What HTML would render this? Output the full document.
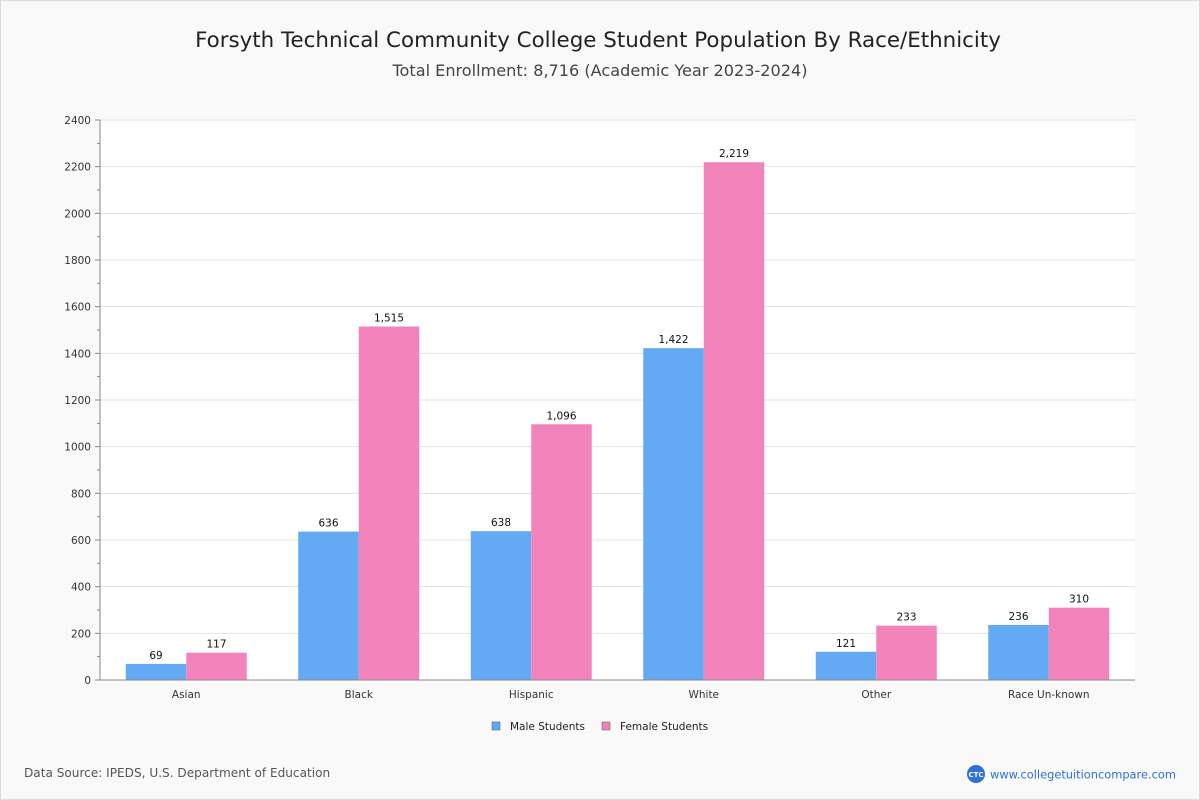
<!DOCTYPE html>
<html><head><meta charset="utf-8">
<style>
body{margin:0;width:1200px;height:800px;background:#f9f9f9;font-family:"DejaVu Sans","Liberation Sans",sans-serif;overflow:hidden}
#frame{position:absolute;left:0;top:0;width:1198px;height:798px;border:1px solid #ddd}
</style></head><body>
<div id="frame"></div>
<svg id="chart" width="1200" height="800" style="position:absolute;left:0;top:0">
<text x="598" y="47" text-anchor="middle" font-size="21.4" fill="#222">Forsyth Technical Community College Student Population By Race/Ethnicity</text>
<text x="600" y="76" text-anchor="middle" font-size="16.1" fill="#444">Total Enrollment: 8,716 (Academic Year 2023-2024)</text>
<rect x="100" y="120" width="1035" height="560" fill="#fff"/>
<g id="grid"></g><g id="bars"></g><g id="axes"></g>
<g>
<rect x="492" y="722" width="8" height="8" fill="#63a9f4" stroke="#555" stroke-width="0.5"/>
<text x="510" y="730" font-size="10.5" fill="#222">Male Students</text>
<rect x="602" y="722" width="8" height="8" fill="#f283bb" stroke="#555" stroke-width="0.5"/>
<text x="620" y="730" font-size="10.5" fill="#222">Female Students</text>
</g>
<text x="24" y="777" font-size="12.1" fill="#555">Data Source: IPEDS, U.S. Department of Education</text>
<circle cx="976" cy="774" r="9" fill="#2f6fd6"/>
<text x="976" y="777" text-anchor="middle" font-size="7" fill="#fff" font-weight="bold">CTC</text>
<text x="990" y="778.5" font-size="11.4" fill="#2f6fd6">www.collegetuitioncompare.com</text>
</svg>
<script>
const categories=["Asian","Black","Hispanic","White","Other","Race Un-known"];
const maleValues=[69,636,638,1422,121,236];
const femaleValues=[117,1515,1096,2219,233,310];
const yTicks=[0,200,400,600,800,1000,1200,1400,1600,1800,2000,2200,2400];
const X0=100,X1=1135,Y0=680,Y1=120,YMAX=2400;
const y=v=>Y0-(v/YMAX)*(Y0-Y1);
const band=(X1-X0)/categories.length;
const xc=i=>X0+band*(i+0.5);
const NS="http://www.w3.org/2000/svg";
function mk(tag,attrs,parent,txt){const e=document.createElementNS(NS,tag);for(const k in attrs)e.setAttribute(k,attrs[k]);if(txt!==undefined)e.textContent=txt;parent.appendChild(e);return e;}
const grid=document.getElementById('grid'),bars=document.getElementById('bars'),axes=document.getElementById('axes');
yTicks.forEach(t=>{
 const g=mk('line',{x1:X0,x2:X1,y1:y(t),y2:y(t),stroke:'#e3e3e3','stroke-width':1},grid);
 
 
 const l=mk('text',{x:91,y:y(t)+4,'text-anchor':'end','font-size':10.5,fill:'#333'},axes,String(t));
 
 
 mk('line',{x1:95,x2:100,y1:y(t),y2:y(t),stroke:'#888'},axes);
 if(t<YMAX){mk('line',{x1:97,x2:100,y1:y(t+100),y2:y(t+100),stroke:'#888'},axes);}
});
mk('line',{x1:X0,x2:X0,y1:Y1,y2:Y0,stroke:'#888'},axes);
mk('line',{x1:X0,x2:X1,y1:Y0,y2:Y0,stroke:'#888'},axes);
const fmt=v=>v.toLocaleString('en-US');
const bw=60.5;
categories.forEach((c,i)=>{
 const cx=xc(i);
 [[maleValues[i],cx-bw,'#63a9f4','bar-male'],[femaleValues[i],cx,'#f283bb','bar-female']].forEach(([v,x,col,nm])=>{
  const r=mk('rect',{x:x,y:y(v),width:bw,height:Y0-y(v),fill:col},bars);
  
  
  const t=mk('text',{x:x+bw/2,y:y(v)-5,'text-anchor':'middle','font-size':10.5,fill:'#111'},bars,fmt(v));
  
  
 });
 const lab=mk('text',{x:cx,y:698,'text-anchor':'middle','font-size':10.5,fill:'#333'},axes,c);
 
 
});
</script>
</body></html>
